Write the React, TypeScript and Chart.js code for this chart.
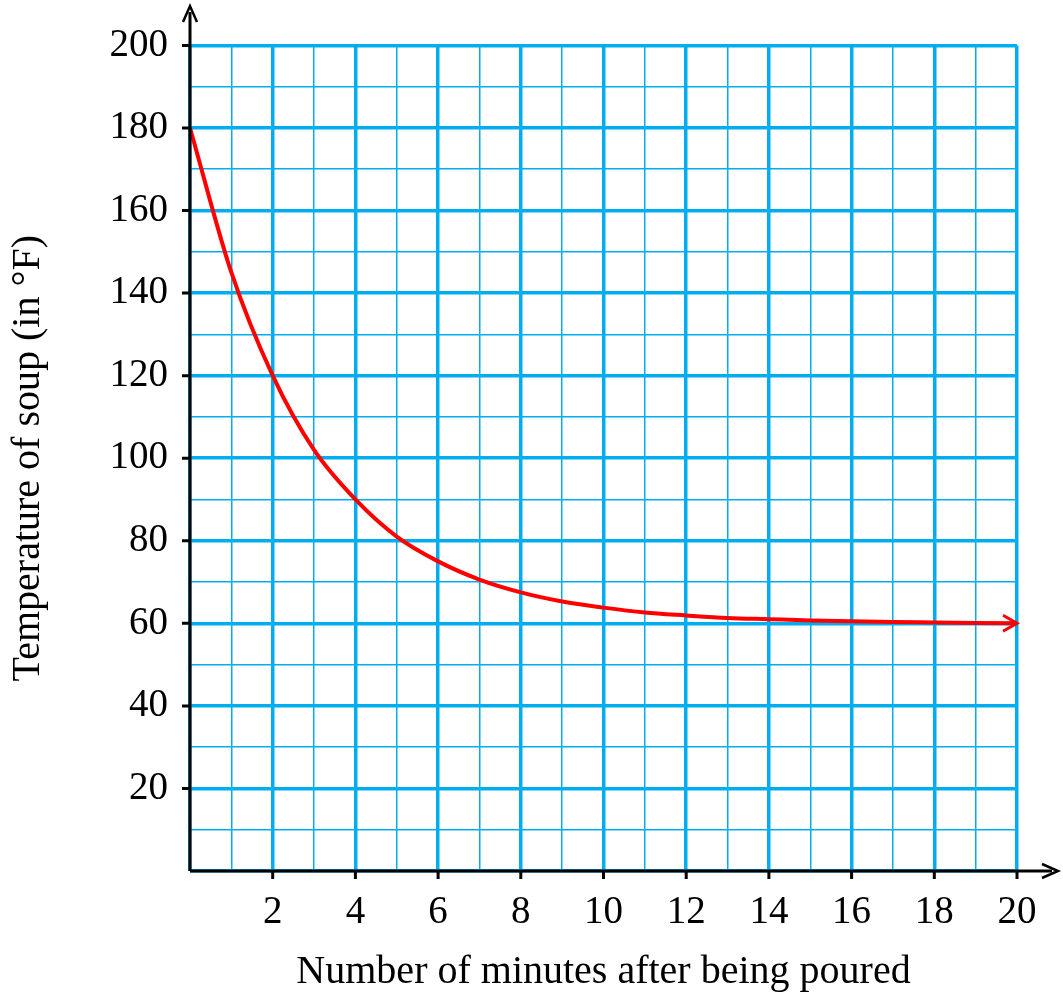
import React, { useEffect, useRef } from "react";
import { Chart, registerables } from "chart.js";
Chart.register(...registerables);

const minutes = [0, 1, 2, 3, 4, 5, 6, 7, 8, 9, 10, 11, 12, 13, 14, 15, 16, 17, 18, 19, 20];
const temps = [180, 145, 120, 102, 90, 81, 75, 70.6, 67.5, 65.3, 63.8, 62.6, 61.9, 61.3, 61, 60.7, 60.5, 60.3, 60.2, 60.1, 60];
const xTicks = [2, 4, 6, 8, 10, 12, 14, 16, 18, 20];
const yTicks = [20, 40, 60, 80, 100, 120, 140, 160, 180, 200];

const BLUE = "#00AEEF";
const FONT = "'Liberation Serif', serif";

const overlay = {
  id: "overlay",
  afterDatasetsDraw(chart: any) {
    const { ctx, chartArea: a } = chart;
    const xs = chart.scales.x, ys = chart.scales.y;
    ctx.save();
    ctx.strokeStyle = "#000";
    ctx.lineWidth = 3;
    ctx.beginPath();
    ctx.moveTo(a.left, a.bottom);
    ctx.lineTo(a.left, 12);
    ctx.moveTo(a.left, a.bottom);
    ctx.lineTo(1052, a.bottom);
    for (const v of yTicks) { const y = ys.getPixelForValue(v); ctx.moveTo(a.left - 8, y); ctx.lineTo(a.left, y); }
    for (const v of xTicks) { const x = xs.getPixelForValue(v); ctx.moveTo(x, a.bottom); ctx.lineTo(x, a.bottom + 8); }
    ctx.stroke();
    ctx.lineWidth = 2.5;
    ctx.beginPath();
    ctx.moveTo(a.left - 7, 22); ctx.lineTo(a.left, 6); ctx.lineTo(a.left + 7, 22);
    ctx.moveTo(1042, a.bottom - 7); ctx.lineTo(1058, a.bottom); ctx.lineTo(1042, a.bottom + 7);
    ctx.stroke();
    const ex = xs.getPixelForValue(minutes[minutes.length - 1]);
    const ey = ys.getPixelForValue(temps[temps.length - 1]);
    ctx.strokeStyle = "#f00";
    ctx.lineWidth = 3;
    ctx.beginPath();
    ctx.moveTo(ex - 14, ey - 8); ctx.lineTo(ex, ey); ctx.lineTo(ex - 14, ey + 8);
    ctx.stroke();
    ctx.restore();
  },
};

export default function App() {
  const ref = useRef<HTMLCanvasElement>(null);
  useEffect(() => {
    const chart = new Chart(ref.current!, {
      type: "line",
      data: {
        datasets: [{
          data: minutes.map((m, i) => ({ x: m, y: temps[i] })),
          borderColor: "#f00",
          borderWidth: 4,
          pointRadius: 0,
          cubicInterpolationMode: "monotone",
        }],
      },
      plugins: [overlay],
      options: {
        animation: false,
        responsive: false,
        devicePixelRatio: 1,
        layout: { padding: { top: 45, right: 46, left: 0, bottom: 0 } },
        plugins: { legend: { display: false }, tooltip: { enabled: false } },
        scales: {
          x: {
            type: "linear", min: 0, max: 20,
            afterBuildTicks: (s: any) => { s.ticks = minutes.map((v) => ({ value: v })); },
            afterFit: (s: any) => { s.height = 129; },
            border: { display: false },
            grid: {
              color: BLUE,
              lineWidth: (c: any) => (c.tick && c.tick.value % 2 === 0 ? 3.5 : 1.5),
              drawTicks: false,
            },
            ticks: {
              autoSkip: false, maxRotation: 0, minRotation: 0,
              padding: 18,
              color: "#000",
              font: { family: FONT, size: 39 },
              callback: (v: any) => (xTicks.includes(v) ? String(v) : ""),
            },
            title: {
              display: true, text: "Number of minutes after being poured",
              color: "#000", font: { family: FONT, size: 40 }, padding: { top: 4 },
            },
          },
          y: {
            type: "linear", min: 0, max: 200,
            afterBuildTicks: (s: any) => { const t = []; for (let v = 0; v <= 200; v += 10) t.push({ value: v }); s.ticks = t; },
            afterFit: (s: any) => { s.width = 190; },
            border: { display: false },
            grid: {
              color: BLUE,
              lineWidth: (c: any) => (c.tick && c.tick.value % 20 === 0 ? 3.5 : 1.5),
              drawTicks: false,
            },
            ticks: {
              autoSkip: false,
              padding: 22,
              color: "#000",
              font: { family: FONT, size: 39 },
              callback: (v: any) => (yTicks.includes(v) ? String(v) : ""),
            },
            title: {
              display: true, text: "Temperature of soup (in °F)",
              color: "#000", font: { family: FONT, size: 40 }, padding: { bottom: 0 },
            },
          },
        },
      },
    } as any);
    return () => chart.destroy();
  }, []);
  return (
    <div style={{ position: "fixed", left: 0, top: 0, width: 1063, height: 1000, background: "#fff" }}>
      <canvas ref={ref} width={1063} height={1000} />
    </div>
  );
}
